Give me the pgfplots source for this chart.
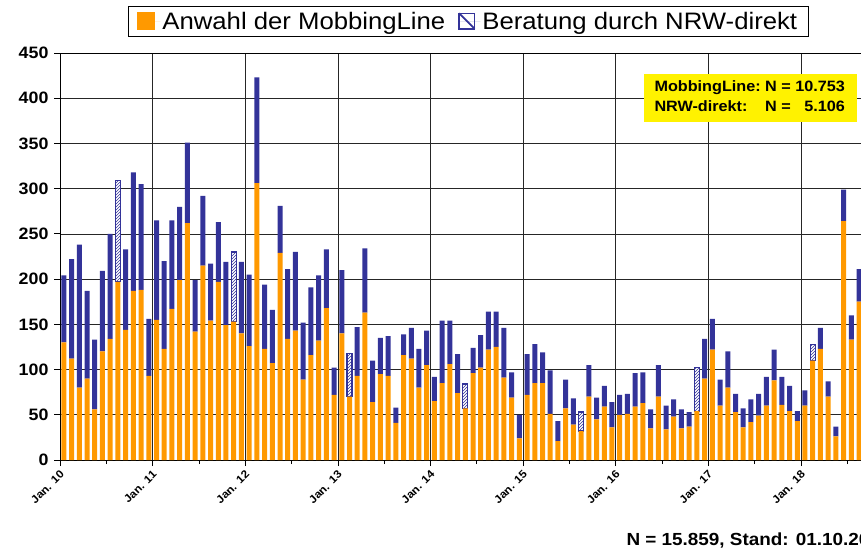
\documentclass[border=0pt]{standalone}
\usepackage{pgfplots}
\pgfplotsset{compat=1.18}
\usepackage{pgfplotstable}
\usepackage{fontspec}
\setmainfont{Liberation Sans}[FakeStretch=1.08]
\usetikzlibrary{patterns}
\definecolor{mlorange}{HTML}{FF9900}
\definecolor{nrwblue}{HTML}{333399}

% Monate ab Jan. 2010 (0) bis Aug. 2018 (103); nrwh = schraffierte Balken
\pgfplotstableread{
x ml nrw nrwh
0 130 74 0
1 112 110 0
2 80 158 0
3 90 97 0
4 56 77 0
5 120 89 0
6 134 116 0
7 197 0 112
8 144 89 0
9 187 131 0
10 188 117 0
11 93 63 0
12 155 110 0
13 123 97 0
14 167 98 0
15 199 81 0
16 262 89 0
17 142 57 0
18 215 77 0
19 154 63 0
20 197 66 0
21 149 70 0
22 153 0 77
23 140 79 0
24 126 79 0
25 306 117 0
26 123 71 0
27 107 59 0
28 229 52 0
29 134 77 0
30 143 87 0
31 89 63 0
32 116 75 0
33 132 72 0
34 168 65 0
35 72 30 0
36 140 70 0
37 70 0 48
38 93 54 0
39 163 71 0
40 64 46 0
41 95 40 0
42 93 44 0
43 41 17 0
44 116 23 0
45 112 34 0
46 80 43 0
47 105 38 0
48 65 27 0
49 85 69 0
50 106 48 0
51 74 43 0
52 57 0 27
53 96 28 0
54 102 36 0
55 122 42 0
56 125 39 0
57 91 55 0
58 69 28 0
59 24 26 0
60 72 45 0
61 85 43 0
62 85 34 0
63 51 48 0
64 21 22 0
65 57 32 0
66 39 29 0
67 32 0 21
68 70 35 0
69 45 24 0
70 59 23 0
71 36 28 0
72 50 22 0
73 51 22 0
74 59 37 0
75 63 34 0
76 35 21 0
77 70 35 0
78 34 26 0
79 48 19 0
80 35 21 0
81 37 16 0
82 54 0 48
83 90 44 0
84 122 34 0
85 60 29 0
86 80 40 0
87 53 20 0
88 36 21 0
89 42 25 0
90 49 24 0
91 60 32 0
92 88 34 0
93 61 31 0
94 54 28 0
95 43 11 0
96 60 17 0
97 110 0 18
98 123 23 0
99 70 17 0
100 26 11 0
101 264 35 0
102 133 27 0
103 175 36 0
}\monate

\begin{document}
\begin{tikzpicture}
\begin{axis}[
  at={(0pt,0pt)}, anchor=south west,
  scale only axis,
  width=810.6pt, height=407pt,
  ybar stacked, bar width=5pt,
  xmin=-0.5, xmax=104.5,
  ymin=0, ymax=450,
  ytick={0,50,...,450},
  xtick={-0.5,11.5,...,95.5},
  xticklabels={Jan. 10,Jan. 11,Jan. 12,Jan. 13,Jan. 14,Jan. 15,Jan. 16,Jan. 17,Jan. 18},
  minor xtick={5.5,17.5,...,101.5},
  xmajorgrids, ymajorgrids,
  grid style={black!85, line width=0.7pt},
  axis line style={black, line width=0.8pt},
  tick style={black, line width=0.8pt},
  tick align=outside, tick pos=left,
  major tick length=6pt, minor tick length=4pt,
  /pgf/number format/assume math mode=true,
  yticklabel style={font=\fontsize{16.5}{18}\selectfont\bfseries, xshift=-2pt},
  xticklabel style={font=\fontsize{11}{12}\selectfont\bfseries, rotate=45, anchor=north east,
    inner sep=1pt, xshift=-2pt, yshift=-1pt},
  legend columns=2,
  legend style={at={(0.5037,1.0774)}, anchor=center, draw=black, line width=0.8pt,
    font=\fontsize{23.8}{26}\selectfont, inner xsep=9pt, inner ysep=4pt,
    /tikz/every even column/.append style={column sep=11pt}},
]
\addplot[fill=mlorange, draw=none,
  legend image code/.code={
    \fill[mlorange] (0pt,-8pt) rectangle (17.5pt,9.5pt);
    \path (0pt,0pt) -- (23pt,0pt);}]
  table[x=x, y=ml] {\monate};
\addlegendentry{Anwahl der MobbingLine}
\addplot[fill=nrwblue, draw=none,
  legend image code/.code={
    \draw[nrwblue, line width=1.6pt, fill=white] (0.8pt,-7.2pt) rectangle (16.2pt,8.2pt);
    \draw[nrwblue, line width=1.6pt] (0.8pt,8.2pt) -- (16.2pt,-7.2pt);
    \path (0pt,0pt) -- (22pt,0pt);}]
  table[x=x, y=nrw] {\monate};
\addlegendentry{Beratung durch NRW-direkt}
\addplot[fill=white, draw=nrwblue, line width=1.2pt,
  postaction={pattern=north east lines, pattern color=nrwblue}, forget plot]
  table[x=x, y=nrwh] {\monate};
\end{axis}

\fill[yellow] (584.3pt,338pt) rectangle (797.3pt,386pt);
\node[anchor=west, inner sep=0pt, font=\fontsize{15}{20}\selectfont\bfseries] at (594.3pt,362pt)
  {\begin{tabular}{@{}l@{\ }l@{\ }r@{}}
   MobbingLine: & N = & 10.753\\
   NRW-direkt: & N = & 5.106
   \end{tabular}};
\node[anchor=base west, inner sep=0pt, font=\fontsize{17.5}{19}\selectfont\bfseries] at (566.3pt,-85pt)
  {N = 15.859, Stand: 01.10.2018};

\pgfresetboundingbox
\path[use as bounding box] (-60pt,-91pt) rectangle (801pt,460pt);
\end{tikzpicture}
\end{document}
